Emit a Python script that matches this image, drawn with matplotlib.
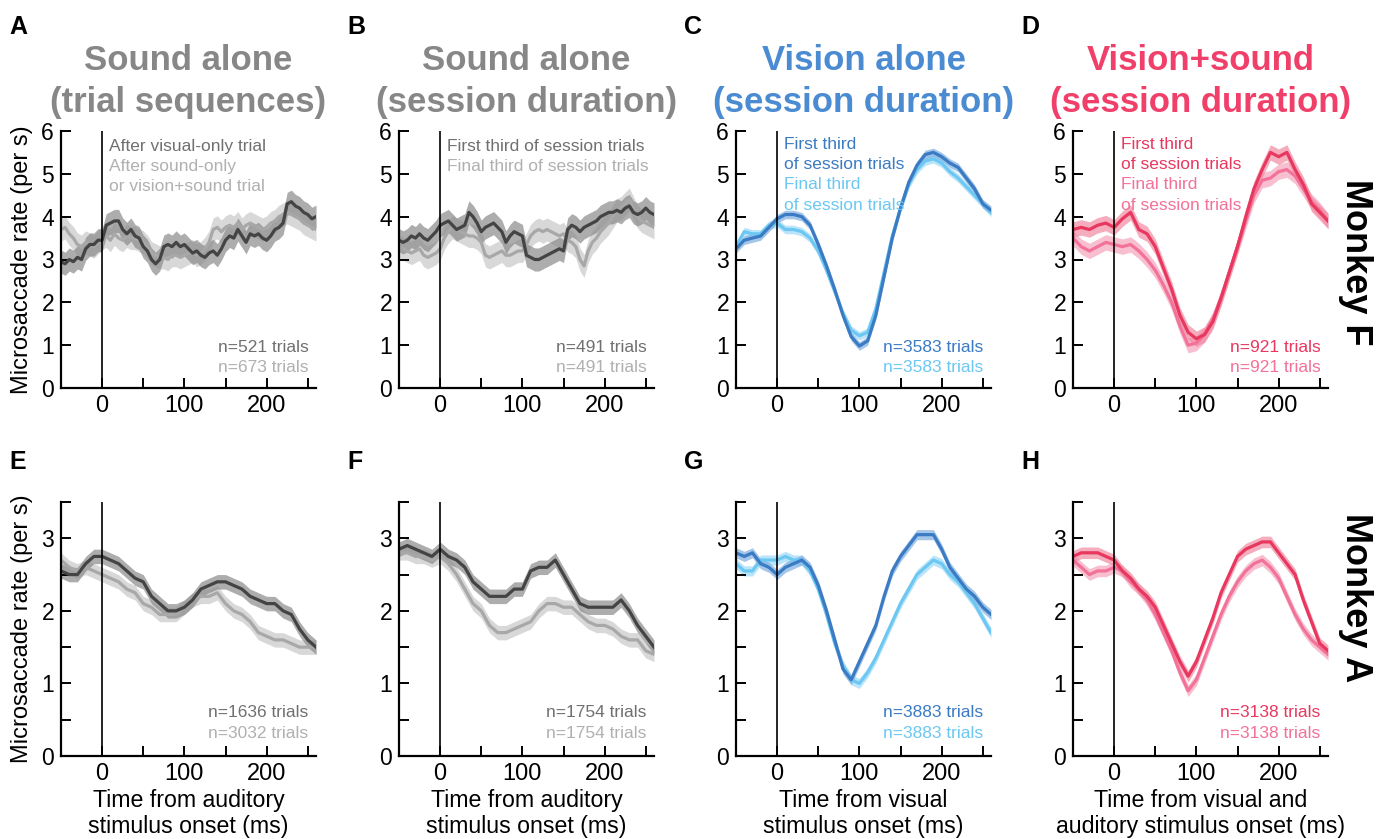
import matplotlib
matplotlib.use("Agg")
import matplotlib.pyplot as plt
import numpy as np

plt.rcParams['font.family'] = ['Liberation Sans', 'DejaVu Sans']

# time axes (ms from stimulus onset)
t = np.arange(-50, 261, 10)   # 10 ms steps
t5 = np.arange(-50, 261, 5)   # 5 ms steps for the noisier sound-alone panels

# ---- Monkey F (top row) ----
A_dark = [2.95, 2.9, 3.0, 2.95, 3.05, 3.0, 3.25, 3.35, 3.35, 3.45, 3.45,
          3.8, 3.85, 3.9, 3.9, 3.7, 3.6, 3.7, 3.55, 3.5, 3.3, 3.2, 3.0, 2.9, 3.0,
          3.3, 3.35, 3.3, 3.4, 3.3, 3.35, 3.25, 3.15, 3.2, 3.1, 3.05, 3.15, 3.2,
          3.1, 3.25, 3.45, 3.55, 3.5, 3.7, 3.55, 3.4, 3.6, 3.55, 3.6, 3.5, 3.45,
          3.55, 3.7, 3.75, 3.85, 4.3, 4.35, 4.25, 4.2, 4.1, 4.05, 3.95, 4.0]
A_light = [3.7, 3.75, 3.6, 3.5, 3.35, 3.3, 3.4, 3.35, 3.3, 3.4, 3.5,
           3.55, 3.45, 3.6, 3.5, 3.45, 3.55, 3.5, 3.5, 3.45, 3.4, 3.3, 3.15, 3.1, 3.05,
           3.05, 3.0, 3.1, 3.1, 3.05, 3.1, 3.15, 3.2, 3.1, 3.15, 3.25, 3.4, 3.7,
           3.75, 3.65, 3.75, 3.8, 3.75, 3.85, 3.7, 3.8, 3.85, 3.8, 3.75, 3.7, 3.75,
           3.85, 3.9, 4.0, 4.05, 4.1, 4.05, 4.0, 3.95, 3.85, 3.8, 3.75, 3.7]
B_dark = [3.45, 3.4, 3.45, 3.55, 3.5, 3.6, 3.5, 3.45, 3.55, 3.65, 3.8,
          3.85, 3.9, 3.8, 3.7, 3.75, 3.8, 4.1, 4.0, 3.85, 3.65, 3.75, 3.8, 3.85, 3.75,
          3.65, 3.4, 3.55, 3.65, 3.6, 3.55, 3.1, 3.05, 3.0, 3.0, 3.05, 3.1, 3.15,
          3.2, 3.25, 3.2, 3.7, 3.8, 3.75, 3.65, 3.75, 3.8, 3.85, 3.9, 4.0, 4.05,
          4.1, 4.1, 4.15, 4.1, 4.2, 4.25, 4.1, 4.05, 4.1, 4.2, 4.1, 4.05]
B_light = [3.3, 3.25, 3.2, 3.15, 3.2, 3.25, 3.1, 3.05, 3.1, 3.15, 3.25,
           3.5, 3.65, 3.75, 3.7, 3.65, 3.6, 3.55, 3.55, 3.5, 3.4, 3.1, 3.05, 3.1, 3.15,
           3.2, 3.1, 3.1, 3.15, 3.2, 3.2, 3.35, 3.55, 3.65, 3.7, 3.65, 3.7, 3.65,
           3.6, 3.55, 3.6, 3.45, 3.4, 3.3, 3.0, 2.85, 3.2, 3.4, 3.5, 3.65, 3.75,
           3.85, 4.0, 4.15, 4.2, 4.3, 4.4, 4.2, 4.0, 3.9, 3.85, 3.8, 3.75]
C_dark = [3.25, 3.45, 3.5, 3.55, 3.75, 3.95, 4.05, 4.05, 4.0, 3.8, 3.35, 2.85, 2.3, 1.7, 1.2, 0.98,
          1.1, 1.7, 2.6, 3.5, 4.2, 4.8, 5.2, 5.45, 5.5, 5.4, 5.25, 5.15, 4.9, 4.65, 4.3, 4.15]
C_light = [3.3, 3.65, 3.6, 3.6, 3.8, 3.85, 3.7, 3.7, 3.65, 3.5, 3.2, 2.75, 2.25, 1.75, 1.35, 1.22,
           1.3, 1.85, 2.7, 3.55, 4.2, 4.75, 5.1, 5.3, 5.35, 5.25, 5.05, 4.9, 4.7, 4.5, 4.3, 4.1]
D_dark = [3.7, 3.75, 3.7, 3.8, 3.85, 3.75, 3.95, 4.1, 3.7, 3.6, 3.3, 2.8, 2.3, 1.7, 1.3, 1.15,
          1.25, 1.55, 2.1, 2.7, 3.3, 4.0, 4.65, 5.1, 5.5, 5.4, 5.5, 5.1, 4.75, 4.3, 4.1, 3.9]
D_light = [3.5, 3.3, 3.2, 3.3, 3.4, 3.35, 3.3, 3.35, 3.2, 3.0, 2.75, 2.4, 2.0, 1.45, 1.0, 1.05,
           1.25, 1.6, 2.1, 2.7, 3.3, 3.9, 4.5, 4.85, 4.9, 5.05, 5.1, 4.95, 4.65, 4.35, 4.15, 3.9]

# ---- Monkey A (bottom row) ----
E_dark = [2.55, 2.5, 2.5, 2.65, 2.75, 2.75, 2.7, 2.65, 2.55, 2.45, 2.4, 2.2, 2.1, 2.0, 2.0, 2.05,
          2.15, 2.3, 2.35, 2.4, 2.4, 2.35, 2.3, 2.2, 2.15, 2.1, 2.1, 2.0, 1.95, 1.75, 1.6, 1.5]
E_light = [2.7, 2.6, 2.55, 2.6, 2.55, 2.5, 2.45, 2.4, 2.3, 2.25, 2.1, 2.05, 1.95, 1.95, 1.95, 2.05,
           2.15, 2.2, 2.2, 2.25, 2.1, 2.0, 1.95, 1.85, 1.7, 1.65, 1.6, 1.6, 1.55, 1.5, 1.5, 1.5]
F_dark = [2.85, 2.9, 2.85, 2.8, 2.75, 2.85, 2.75, 2.7, 2.6, 2.4, 2.3, 2.2, 2.2, 2.2, 2.3, 2.3,
          2.55, 2.6, 2.6, 2.7, 2.5, 2.3, 2.1, 2.05, 2.05, 2.05, 2.05, 2.15, 2.0, 1.8, 1.65, 1.5]
F_light = [2.8, 2.8, 2.75, 2.75, 2.7, 2.75, 2.65, 2.5, 2.3, 2.1, 2.0, 1.8, 1.7, 1.7, 1.75, 1.8,
           1.85, 2.0, 2.1, 2.1, 2.05, 2.05, 1.95, 1.85, 1.8, 1.8, 1.75, 1.65, 1.6, 1.6, 1.45, 1.4]
G_dark = [2.8, 2.75, 2.8, 2.65, 2.6, 2.5, 2.6, 2.65, 2.7, 2.6, 2.35, 2.0, 1.6, 1.2, 1.05, 1.3,
          1.55, 1.8, 2.2, 2.55, 2.75, 2.9, 3.05, 3.05, 3.05, 2.85, 2.6, 2.45, 2.3, 2.2, 2.05, 1.95]
G_light = [2.65, 2.55, 2.55, 2.7, 2.7, 2.7, 2.75, 2.7, 2.7, 2.55, 2.3, 1.95, 1.55, 1.25, 1.05, 1.0,
           1.15, 1.35, 1.6, 1.85, 2.1, 2.3, 2.5, 2.6, 2.7, 2.65, 2.5, 2.4, 2.25, 2.1, 1.9, 1.7]
H_dark = [2.75, 2.8, 2.8, 2.8, 2.75, 2.7, 2.55, 2.45, 2.3, 2.2, 2.05, 1.8, 1.55, 1.3, 1.1, 1.3,
          1.6, 1.9, 2.25, 2.5, 2.75, 2.85, 2.9, 2.95, 2.95, 2.8, 2.65, 2.5, 2.15, 1.85, 1.55, 1.45]
H_light = [2.7, 2.6, 2.5, 2.55, 2.55, 2.6, 2.55, 2.4, 2.3, 2.15, 1.95, 1.7, 1.45, 1.15, 0.9, 1.05,
           1.35, 1.65, 1.95, 2.2, 2.4, 2.55, 2.65, 2.7, 2.6, 2.45, 2.2, 1.95, 1.75, 1.6, 1.5, 1.4]

# half-width of the shaded error band per panel
sem = {"A": 0.27, "B": 0.27, "C": 0.1, "D": 0.18, "E": 0.1, "F": 0.1, "G": 0.07, "H": 0.08}

titles = ["Sound alone\n(trial sequences)", "Sound alone\n(session duration)",
          "Vision alone\n(session duration)", "Vision+sound\n(session duration)"]
xlabels = ["Time from auditory\nstimulus onset (ms)", "Time from auditory\nstimulus onset (ms)",
           "Time from visual\nstimulus onset (ms)", "Time from visual and\nauditory stimulus onset (ms)"]
n_top = [("n=521 trials", "n=673 trials"), ("n=491 trials", "n=491 trials"),
         ("n=3583 trials", "n=3583 trials"), ("n=921 trials", "n=921 trials")]
n_bot = [("n=1636 trials", "n=3032 trials"), ("n=1754 trials", "n=1754 trials"),
         ("n=3883 trials", "n=3883 trials"), ("n=3138 trials", "n=3138 trials")]

gray = dict(title="#878787", dline="#444444", dband="#8a8a8a", lline="#a8a8a8", lband="#d2d2d2",
            dtext="#707070", ltext="#b0b0b0")
blue = dict(title="#4a8bd2", dline="#3b7bc4", dband="#7eaee0", lline="#6cc8f2", lband="#aee0f8",
            dtext="#3b7bc4", ltext="#6cc8f2")
red = dict(title="#f0406a", dline="#e8385f", dband="#f28aa2", lline="#f27299", lband="#f7b4c8",
           dtext="#e8385f", ltext="#f27299")
palettes = [gray, gray, blue, red]

top_data = [(t5, A_dark, A_light), (t5, B_dark, B_light), (t, C_dark, C_light), (t, D_dark, D_light)]
bot_data = [(t, E_dark, E_light), (t, F_dark, F_light), (t, G_dark, G_light), (t, H_dark, H_light)]
letters_top = "ABCD"
letters_bot = "EFGH"

fig = plt.figure(figsize=(13.83, 8.39), dpi=100)
W, H = 1383, 839
lefts = [61, 399, 736, 1073]
axw = 255
fs_note = 12.5


def draw(ax, x, dark, light, pal, band, ymax):
    ax.fill_between(x, np.array(light) - band, np.array(light) + band, color=pal["lband"], lw=0, alpha=0.85)
    ax.fill_between(x, np.array(dark) - band, np.array(dark) + band, color=pal["dband"], lw=0, alpha=0.7)
    ax.plot(x, light, color=pal["lline"], lw=2.3)
    ax.plot(x, dark, color=pal["dline"], lw=2.3)
    ax.axvline(0, color="black", lw=1.2)
    ax.set_xlim(-50, 260)
    ax.set_ylim(0, ymax)
    for s in ["top", "right"]:
        ax.spines[s].set_visible(False)
    for s in ["left", "bottom"]:
        ax.spines[s].set_linewidth(1.6)
    ax.set_xticks([-50, 0, 50, 100, 150, 200, 250])
    ax.set_xticklabels(["", "0", "", "100", "", "200", ""])
    ax.tick_params(direction="in", length=7, width=1.4)
    ax.tick_params(axis="x", labelsize=17, pad=5)
    ax.tick_params(axis="y", labelsize=16.5, pad=5)


def note(ax, y, s, color):
    ax.text(8, y, s, fontsize=fs_note, color=color, va="center")


for i in range(4):
    pal = palettes[i]
    # top row
    ax = fig.add_axes([lefts[i] / W, 1 - 388 / H, axw / W, 257 / H])
    x, d, l = top_data[i]
    draw(ax, x, d, l, pal, sem[letters_top[i]], 6)
    ax.set_yticks(range(7))
    ax.set_title(titles[i], color=pal["title"], fontsize=25, fontweight="bold", pad=14, linespacing=1.32)
    ax.text(0.97, 0.156, n_top[i][0], transform=ax.transAxes, ha="right", va="center", fontsize=fs_note, color=pal["dtext"])
    ax.text(0.97, 0.078, n_top[i][1], transform=ax.transAxes, ha="right", va="center", fontsize=fs_note, color=pal["ltext"])
    if i == 0:
        ax.set_ylabel("Microsaccade rate (per s)", fontsize=17, labelpad=6)
        note(ax, 5.64, "After visual-only trial", pal["dtext"])
        note(ax, 5.17, "After sound-only", pal["ltext"])
        note(ax, 4.70, "or vision+sound trial", pal["ltext"])
    elif i == 1:
        note(ax, 5.64, "First third of session trials", pal["dtext"])
        note(ax, 5.17, "Final third of session trials", pal["ltext"])
    else:
        note(ax, 5.68, "First third", pal["dtext"])
        note(ax, 5.21, "of session trials", pal["dtext"])
        note(ax, 4.74, "Final third", pal["ltext"])
        note(ax, 4.27, "of session trials", pal["ltext"])
    fig.text((lefts[i] - 52) / W, 1 - 27 / H, letters_top[i], fontsize=18, fontweight="bold", va="center")

    # bottom row
    ax = fig.add_axes([lefts[i] / W, 1 - 756 / H, axw / W, 254 / H])
    x, d, l = bot_data[i]
    draw(ax, x, d, l, pal, sem[letters_bot[i]], 3.5)
    ax.set_yticks(np.arange(0, 3.6, 0.5))
    ax.set_yticklabels(["0", "", "1", "", "2", "", "3", ""])
    ax.set_xlabel(xlabels[i], fontsize=16.7, labelpad=3, linespacing=1.15)
    ax.text(0.97, 0.17, n_bot[i][0], transform=ax.transAxes, ha="right", va="center", fontsize=fs_note, color=pal["dtext"])
    ax.text(0.97, 0.09, n_bot[i][1], transform=ax.transAxes, ha="right", va="center", fontsize=fs_note, color=pal["ltext"])
    if i == 0:
        ax.set_ylabel("Microsaccade rate (per s)", fontsize=17, labelpad=6)
    fig.text((lefts[i] - 52) / W, 1 - 462 / H, letters_bot[i], fontsize=18, fontweight="bold", va="center")

fig.text(1355 / W, 1 - 262 / H, "Monkey F", rotation=270, fontsize=26, fontweight="bold", ha="center", va="center")
fig.text(1355 / W, 1 - 598 / H, "Monkey A", rotation=270, fontsize=26, fontweight="bold", ha="center", va="center")

fig.savefig("out.png", dpi=100)
